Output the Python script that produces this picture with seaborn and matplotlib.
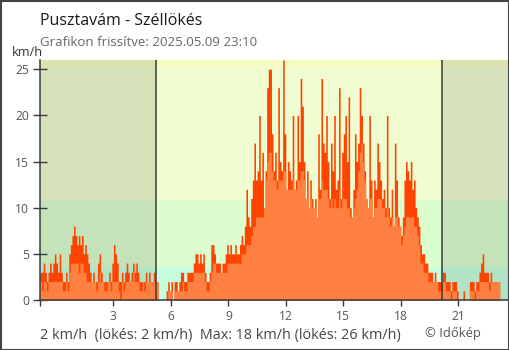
import numpy as np
import pandas as pd
import matplotlib
matplotlib.use("Agg")
import matplotlib.pyplot as plt
import seaborn as sns
from matplotlib.patches import Rectangle

# 5-minute wind records, 2025.05.08 23:10 -> 2025.05.09 23:10 (km/h)
# one row per hour; the first row covers 23:10-24:00, the last 23:00-23:10
gust_kmh = [
    [3, 3, 4, 3, 2, 3, 4, 3, 4, 5],
    [4, 3, 5, 3, 2, 2, 3, 2, 5, 6, 7, 8],
    [7, 6, 7, 6, 7, 5, 6, 5, 4, 3, 2, 3],
    [2, 2, 4, 5, 3, 2, 2, 2, 2, 3, 2, 4],
    [6, 5, 4, 2, 2, 3, 2, 3, 4, 3, 2, 3],
    [4, 3, 4, 3, 2, 2, 2, 2, 3, 2, 3, 2],
    [2, 3, 2, 2, 0, 0, 0, 0, 0, 1, 2, 1],
    [2, 0, 2, 2, 1, 2, 3, 3, 2, 2, 3, 3],
    [3, 3, 4, 5, 5, 4, 5, 4, 5, 3, 2, 2],
    [3, 6, 6, 5, 4, 4, 4, 3, 4, 4, 5, 6],
    [5, 6, 5, 5, 6, 5, 5, 6, 7, 6, 8, 12],
    [9, 8, 11, 13, 17, 13, 14, 20, 13, 16, 9, 14],
    [23, 25, 25, 18, 14, 16, 13, 23, 15, 14, 26, 18],
    [10, 15, 14, 13, 20, 12, 13, 20, 15, 24, 21, 15],
    [11, 14, 10, 13, 11, 9, 11, 8, 18, 12, 24, 17],
    [16, 20, 15, 11, 17, 14, 20, 12, 13, 23, 11, 16],
    [18, 20, 15, 22, 10, 7, 12, 18, 15, 17, 23, 20],
    [17, 14, 11, 10, 20, 13, 9, 13, 12, 17, 15, 13],
    [11, 12, 10, 20, 10, 9, 12, 8, 17, 13, 9, 8],
    [7, 9, 13, 15, 14, 13, 15, 12, 13, 10, 9, 8],
    [6, 5, 5, 4, 4, 3, 3, 3, 2, 3, 2, 2],
    [2, 2, 3, 3, 2, 2, 2, 1, 2, 2, 2, 1],
    [0, 0, 0, 1, 0, 0, 0, 2, 2, 2, 1, 2],
    [2, 3, 4, 5, 3, 3, 3, 2, 3, 2, 2, 2],
    [2, 2],
]
avg_kmh = [
    [2, 1, 2, 2, 1, 2, 2, 2, 2, 2],
    [2, 2, 2, 2, 1, 1, 2, 1, 3, 4, 4, 4],
    [4, 4, 3, 4, 4, 3, 3, 2, 2, 2, 2, 2],
    [2, 1, 2, 3, 2, 2, 1, 1, 2, 2, 1, 2],
    [2, 2, 2, 1, 0, 2, 1, 2, 2, 2, 2, 2],
    [3, 2, 2, 2, 1, 1, 2, 1, 2, 2, 2, 2],
    [2, 2, 2, 2, 0, 0, 0, 0, 0, 0, 1, 1],
    [1, 0, 1, 1, 1, 1, 1, 2, 1, 1, 2, 2],
    [2, 2, 3, 3, 3, 3, 3, 3, 3, 2, 1, 1],
    [2, 3, 4, 4, 3, 3, 3, 3, 3, 3, 3, 4],
    [4, 4, 4, 4, 4, 4, 4, 4, 5, 5, 5, 6],
    [6, 6, 7, 8, 8, 9, 9, 9, 9, 9, 10, 13],
    [15, 16, 16, 14, 13, 13, 12, 13, 13, 13, 14, 14],
    [12, 12, 12, 12, 13, 12, 12, 13, 13, 14, 14, 13],
    [11, 11, 10, 11, 10, 10, 10, 9, 11, 11, 13, 12],
    [12, 12, 11, 10, 11, 10, 11, 10, 10, 12, 10, 11],
    [11, 11, 10, 10, 9, 9, 10, 11, 12, 14, 16, 17],
    [15, 13, 11, 10, 11, 11, 9, 10, 10, 11, 11, 11],
    [10, 10, 9, 10, 9, 8, 9, 8, 9, 9, 8, 8],
    [6, 7, 8, 9, 9, 9, 9, 9, 8, 8, 7, 6],
    [4, 4, 3, 3, 3, 2, 2, 2, 2, 2, 2, 1],
    [1, 1, 2, 2, 1, 1, 1, 0, 1, 1, 1, 0],
    [0, 0, 0, 0, 0, 0, 0, 1, 1, 1, 0, 1],
    [1, 2, 2, 2, 2, 2, 2, 1, 2, 2, 2, 2],
    [2, 2],
]

hour_ticks = [3, 6, 9, 12, 15, 18, 21]
y_ticks = [0, 5, 10, 15, 20, 25]
sunrise_h = 5.24
sunset_h = 20.16
# wind strength bands: 1, 3 and 7 m/s expressed in km/h
band_edges = [0, 3.6, 10.8, 25.2, 26]
band_colors = ["#c6fddc", "#dcfdce", "#effdd0", "#f6fcc2"]

title = "Pusztavám - Széllökés"
subtitle = "Grafikon frissítve: 2025.05.09 23:10"
summary = "2 km/h  (lökés: 2 km/h)  Max: 18 km/h (lökés: 26 km/h)"
credit = "© Időkép"

gust = np.concatenate([np.array(r, float) for r in gust_kmh])
avg = np.concatenate([np.array(r, float) for r in avg_kmh])
step_h = 5 / 60
t_start = -50 / 60
edges = (t_start + step_h * np.arange(len(gust) + 1)).tolist()
centers = t_start + step_h * (np.arange(len(gust)) + 0.5)
wind = pd.DataFrame({"hour": centers, "gust": gust, "avg": avg})

sns.set_theme(style="white")
plt.rcParams["font.family"] = ["Open Sans", "DejaVu Sans"]

W, H = 510, 350
fig = plt.figure(figsize=(W / 100, H / 100), dpi=100)
ax = fig.add_axes([40 / W, 50 / H, 468 / W, 240 / H])

x_left, x_right = t_start, 23.6
for lo, hi, c in zip(band_edges[:-1], band_edges[1:], band_colors):
    ax.axhspan(lo, hi, color=c, lw=0, zorder=0)
ax.axvspan(x_left, sunrise_h, color="black", alpha=0.1, lw=0, zorder=0.5)
ax.axvspan(sunset_h, x_right, color="black", alpha=0.1, lw=0, zorder=0.5)

sns.histplot(data=wind, x="hour", weights="gust", bins=edges, element="step",
             fill=True, color="#ff4300", alpha=1, linewidth=0, ax=ax, zorder=2)
sns.histplot(data=wind, x="hour", weights="avg", bins=edges, element="step",
             fill=True, color="#ff8040", alpha=1, linewidth=0, ax=ax, zorder=3)

for xv in (sunrise_h, sunset_h):
    ax.axvline(xv, color="#3a3a3a", lw=1.1, zorder=4)

ax.set_xlim(x_left, x_right)
ax.set_ylim(0, 26)
ax.set_xlabel("")
ax.set_ylabel("")
ax.set_xticks([x_left] + hour_ticks)
ax.set_xticklabels([""] + [str(h) for h in hour_ticks])
ax.set_yticks(y_ticks)
ax.set_yticklabels([str(v) for v in y_ticks])
ax.tick_params(axis="x", direction="out", length=4.5, width=1, color="#3a3a3a",
               labelsize=8.7, labelcolor="#555555", pad=3, bottom=True)
ax.tick_params(axis="y", direction="inout", length=9.5, width=1, color="#3a3a3a",
               labelsize=8.7, labelcolor="#555555", pad=3, left=True)
for side in ("top", "right"):
    ax.spines[side].set_visible(False)
for side in ("left", "bottom"):
    ax.spines[side].set_color("#3a3a3a")
    ax.spines[side].set_linewidth(1.1)
    ax.spines[side].set_zorder(5)

def ftext(x, y, s, **kw):
    fig.text(x / W, 1 - y / H, s, va="baseline", ha="left", **kw)

ftext(40, 25, title, fontsize=11.5, color="#1a1a1a")
ftext(40, 46, subtitle, fontsize=9.5, color="#666666")
ftext(12, 56, "km/h", fontsize=9.2, color="#333333")
ftext(40, 339, summary, fontsize=10.4, color="#444444")
ftext(425, 337, credit, fontsize=9.4, color="#555555")

fig.patches.append(Rectangle((0.5 / W, 0.5 / H), 1 - 1.5 / W, 1 - 1.5 / H,
                             transform=fig.transFigure, fill=False,
                             edgecolor="#444444", lw=1.5))

fig.savefig("out.png", dpi=100)
